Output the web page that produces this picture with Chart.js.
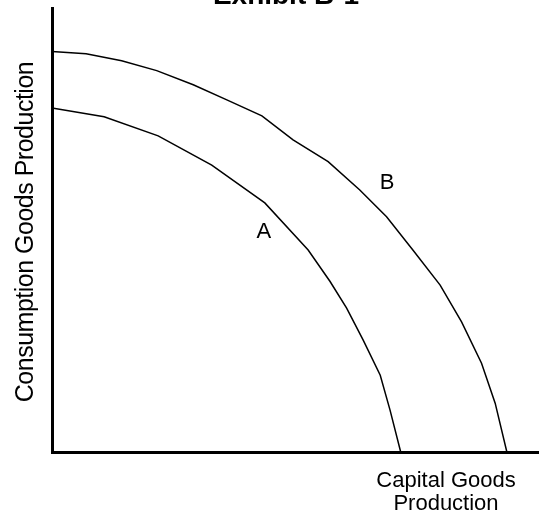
<!DOCTYPE html>
<html>
<head>
<meta charset="utf-8">
<script src="https://cdn.jsdelivr.net/npm/chart.js@4/dist/chart.umd.min.js"></script>
<style>
  body { margin: 0; background: #fff; }
</style>
</head>
<body>
<canvas id="ppf" width="539" height="512"></canvas>
<script>
// production possibilities frontiers (arbitrary units 0-100)
const curveAX = [0, 10.7, 21.8, 32.8, 43.7, 52.6, 57.1, 60.5, 63.9, 67.4, 69.4, 71.6];
const curveAY = [77.5, 75.5, 71.2, 64.6, 56.1, 45.5, 38.4, 32.4, 25.2, 17.3, 9.5, 0];
const curveBX = [0, 7.0, 14.3, 21.5, 29.0, 35.9, 43.1, 49.5, 56.7, 63.2, 68.7, 74.1, 79.7, 84.1, 88.2, 91.0, 93.4];
const curveBY = [90.2, 89.7, 88.1, 85.9, 82.7, 79.3, 75.7, 70.3, 65.4, 59.0, 53.0, 45.5, 37.6, 29.3, 20.0, 11.0, 0];

const curveNames = ['A', 'B'];
const nameX = [43.5, 68.8];
const nameY = [49.5, 60.6];

const chartTitle = 'Exhibit B-1';
const xTitle = ['Capital Goods', 'Production'];
const yTitle = 'Consumption Goods Production';

const FONT = '"Liberation Sans", Arial, sans-serif';

function toPoints(xs, ys) {
  return xs.map((x, i) => ({ x, y: ys[i] }));
}

// titles and curve letters drawn on top of the chart
const textPlugin = {
  id: 'ppfText',
  afterDraw(chart) {
    const { ctx, scales } = chart;
    ctx.save();
    ctx.fillStyle = '#000';

    ctx.font = 'bold 28px ' + FONT;
    ctx.textAlign = 'center';
    ctx.textBaseline = 'alphabetic';
    ctx.fillText(chartTitle, 286, 4);

    ctx.font = '22px ' + FONT;
    ctx.textBaseline = 'middle';
    curveNames.forEach((n, i) => {
      ctx.fillText(n, scales.x.getPixelForValue(nameX[i]), scales.y.getPixelForValue(nameY[i]));
    });

    ctx.textBaseline = 'alphabetic';
    ctx.fillText(xTitle[0], 446, 487);
    ctx.fillText(xTitle[1], 446, 510);

    ctx.font = '25px ' + FONT;
    ctx.letterSpacing = '-0.5px';
    ctx.translate(33, 232);
    ctx.rotate(-Math.PI / 2);
    ctx.fillText(yTitle, 0, 0);
    ctx.restore();
  },
};

new Chart(document.getElementById('ppf'), {
  type: 'line',
  data: {
    datasets: [
      { label: 'A', data: toPoints(curveAX, curveAY) },
      { label: 'B', data: toPoints(curveBX, curveBY) },
    ],
  },
  options: {
    responsive: false,
    animation: false,
    events: [],
    layout: { padding: { left: 52, top: 8, right: 0, bottom: 60 } },
    elements: {
      line: { borderColor: '#000', borderWidth: 1.5, tension: 0, fill: false },
      point: { radius: 0 },
    },
    plugins: {
      legend: { display: false },
      tooltip: { enabled: false },
    },
    scales: {
      x: {
        type: 'linear',
        min: 0,
        max: 100,
        ticks: { display: false },
        grid: { display: false, drawTicks: false },
        border: { display: true, color: '#000', width: 3 },
      },
      y: {
        type: 'linear',
        min: 0,
        max: 100,
        ticks: { display: false },
        grid: { display: false, drawTicks: false },
        border: { display: true, color: '#000', width: 3 },
      },
    },
  },
  plugins: [textPlugin],
});
</script>
</body>
</html>
